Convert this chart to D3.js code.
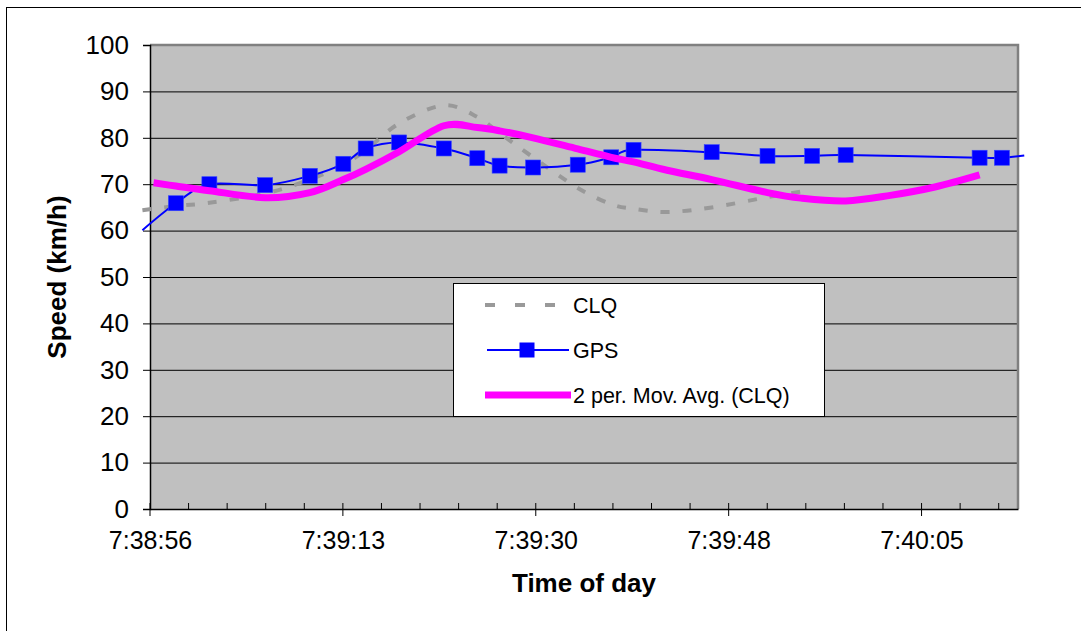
<!DOCTYPE html>
<html>
<head>
<meta charset="utf-8">
<script src="https://cdn.jsdelivr.net/npm/d3@7"></script>
<style>
  body { margin: 0; background: #fff; }
  svg { font-family: "Liberation Sans", Arial, sans-serif; }
</style>
</head>
<body>
<svg width="1081" height="631"></svg>
<script>
// GPS speed samples (time of day, km/h)
const gpsTimes = ["7:38:55","7:38:58","7:39:01","7:39:06","7:39:10","7:39:13","7:39:15","7:39:18",
  "7:39:22","7:39:25","7:39:27","7:39:30","7:39:34","7:39:37","7:39:39","7:39:46","7:39:51",
  "7:39:55","7:39:58","7:40:10","7:40:12","7:40:14"];
const gpsSpeed = [60.1, 65.9, 70.0, 69.8, 71.8, 74.4, 77.7, 79.0,
  77.7, 75.6, 74.0, 73.6, 74.2, 75.8, 77.4, 76.9, 76.1,
  76.1, 76.3, 75.7, 75.7, 76.2];

// CLQ speed samples
const clqTimes = ["7:38:55","7:38:58","7:39:01","7:39:06","7:39:10","7:39:13","7:39:15","7:39:18",
  "7:39:22","7:39:25","7:39:27","7:39:30","7:39:34","7:39:37","7:39:39","7:39:42","7:39:46",
  "7:39:51","7:39:54"];
const clqSpeed = [64.4, 65.3, 66.0, 68.0, 71.0, 74.3, 77.3, 83.1,
  87.0, 84.5, 81.0, 75.8, 69.2, 65.7, 64.7, 64.0, 65.0,
  67.2, 68.4];

// 2 per. moving average trendline of CLQ, as drawn
const avgTimes = ["7:38:56","7:38:58","7:39:01","7:39:06","7:39:10","7:39:13","7:39:15","7:39:18",
  "7:39:22","7:39:25","7:39:27","7:39:30","7:39:34","7:39:37","7:39:39","7:39:42","7:39:46",
  "7:39:51","7:39:54","7:39:58","7:40:02","7:40:06","7:40:10"];
const avgSpeed = [70.3, 69.6, 68.6, 67.1, 68.2, 71.0, 73.2, 77.0,
  82.6, 82.2, 81.5, 80.0, 77.6, 75.8, 74.8, 73.0, 71.0,
  68.2, 67.0, 66.4, 67.6, 69.4, 72.0];

const yTicks = [0, 10, 20, 30, 40, 50, 60, 70, 80, 90, 100];
const xTickLabels = ["7:38:56", "7:39:13", "7:39:30", "7:39:48", "7:40:05"];
const xDomainDays = [0.3187, 0.3196];   // excel day fractions
const majorUnitDays = 0.0002;
const minorUnitDays = 0.00004;

const toSec = s => { const p = s.split(":").map(Number); return p[0]*3600 + p[1]*60 + p[2]; };
const zip = (ts, vs) => ts.map((t, i) => ({t: toSec(t), v: vs[i]}));
const gps = zip(gpsTimes, gpsSpeed);
const clq = zip(clqTimes, clqSpeed);
const avg = zip(avgTimes, avgSpeed);

const L = 150, R = 1018, T = 45, B = 509;
const x0 = xDomainDays[0]*86400, x1 = xDomainDays[1]*86400;
const x = d3.scaleLinear().domain([x0, x1]).range([L, R]);
const y = d3.scaleLinear().domain([0, 100]).range([B, T]);

const majorTicks = d3.range(0, 5).map(i => x0 + i*majorUnitDays*86400);
const minorTicks = d3.range(1, 23).map(i => x0 + i*minorUnitDays*86400).filter((d, i) => (i+1) % 5 !== 0);

const svg = d3.select("svg");

// chart frame
svg.append("rect").attr("x", 6.5).attr("y", 7.5).attr("width", 1100).attr("height", 700)
  .attr("fill", "#fff").attr("stroke", "#000");

// plot area
svg.append("rect").attr("x", L).attr("y", T).attr("width", R - L).attr("height", B - T)
  .attr("fill", "#c0c0c0");

svg.append("g").selectAll("line").data(yTicks.filter(d => d > 0 && d < 100)).join("line")
  .attr("x1", L).attr("x2", R).attr("y1", d => y(d) + 0.5).attr("y2", d => y(d) + 0.5)
  .attr("stroke", "#000").attr("stroke-width", 1);

// top / right border
svg.append("path").attr("d", `M${L},${T}H${R}V${B}`).attr("fill", "none")
  .attr("stroke", "#808080").attr("stroke-width", 2.5);

// y axis
const yAxis = svg.append("g").attr("transform", `translate(${L},0)`)
  .call(d3.axisLeft(y).tickValues(yTicks).tickSize(7).tickPadding(14).tickFormat(d3.format("d")));
yAxis.select(".domain").attr("stroke", "#000").attr("stroke-width", 1.5);
yAxis.selectAll("text").attr("font-size", 26).attr("fill", "#000").attr("font-family", "Liberation Sans, Arial, sans-serif");

// x axis
const xAxis = svg.append("g").attr("transform", `translate(0,${B})`)
  .call(d3.axisBottom(x).tickValues(majorTicks).tickSize(0).tickPadding(22)
    .tickFormat((d, i) => xTickLabels[i]));
xAxis.select(".domain").attr("stroke", "#000").attr("stroke-width", 1.5);
xAxis.selectAll("text").attr("font-size", 25).attr("fill", "#000").attr("font-family", "Liberation Sans, Arial, sans-serif");

svg.append("g").selectAll("line").data(majorTicks).join("line")
  .attr("x1", d => x(d)).attr("x2", d => x(d)).attr("y1", B - 6).attr("y2", B + 7)
  .attr("stroke", "#000");
svg.append("g").selectAll("line").data(minorTicks).join("line")
  .attr("x1", d => x(d)).attr("x2", d => x(d)).attr("y1", B - 6).attr("y2", B)
  .attr("stroke", "#000");

// axis titles
svg.append("text").attr("x", (L + R)/2).attr("y", 592).attr("text-anchor", "middle")
  .attr("font-size", 26).attr("font-weight", "bold").text("Time of day");
svg.append("text").attr("transform", `translate(66,${(T + B)/2}) rotate(-90)`)
  .attr("text-anchor", "middle").attr("font-size", 26).attr("font-weight", "bold")
  .text("Speed (km/h)");

// series
const line = d3.line().x(d => x(d.t)).y(d => y(d.v)).curve(d3.curveCardinal.tension(0));

svg.append("path").datum(clq).attr("d", line).attr("fill", "none")
  .attr("stroke", "#999999").attr("stroke-width", 4).attr("stroke-dasharray", "9,13");

svg.append("path").datum(gps).attr("d", line).attr("fill", "none")
  .attr("stroke", "#0000ff").attr("stroke-width", 2);
const ms = 15;
svg.append("g").selectAll("rect").data(gps.filter(d => d.t >= x0 && d.t <= x1)).join("rect")
  .attr("x", d => x(d.t) - ms/2).attr("y", d => y(d.v) - ms/2)
  .attr("width", ms).attr("height", ms)
  .attr("fill", "#0000ff").attr("stroke", "#3344ff").attr("stroke-width", 0.6);

svg.append("path").datum(avg).attr("d", line).attr("fill", "none")
  .attr("stroke", "#ff00ff").attr("stroke-width", 7);

// legend
const lg = svg.append("g");
lg.append("rect").attr("x", 453.5).attr("y", 283.5).attr("width", 371).attr("height", 133)
  .attr("fill", "#fff").attr("stroke", "#000");
const rows = [
  {name: "CLQ", yy: 305},
  {name: "GPS", yy: 350},
  {name: "2 per. Mov. Avg. (CLQ)", yy: 395}
];
lg.append("line").attr("x1", 485).attr("x2", 570).attr("y1", rows[0].yy).attr("y2", rows[0].yy)
  .attr("stroke", "#999999").attr("stroke-width", 4).attr("stroke-dasharray", "10,20");
lg.append("line").attr("x1", 487).attr("x2", 569).attr("y1", rows[1].yy).attr("y2", rows[1].yy)
  .attr("stroke", "#0000ff").attr("stroke-width", 2);
lg.append("rect").attr("x", 527 - ms/2).attr("y", rows[1].yy - ms/2).attr("width", ms).attr("height", ms)
  .attr("fill", "#0000ff");
lg.append("line").attr("x1", 485).attr("x2", 571).attr("y1", rows[2].yy).attr("y2", rows[2].yy)
  .attr("stroke", "#ff00ff").attr("stroke-width", 7);
lg.selectAll("text.lbl").data(rows).join("text").attr("class", "lbl")
  .attr("x", 573).attr("y", d => d.yy).attr("dy", "0.36em").attr("font-size", 21.5)
  .text(d => d.name);
</script>
</body>
</html>
